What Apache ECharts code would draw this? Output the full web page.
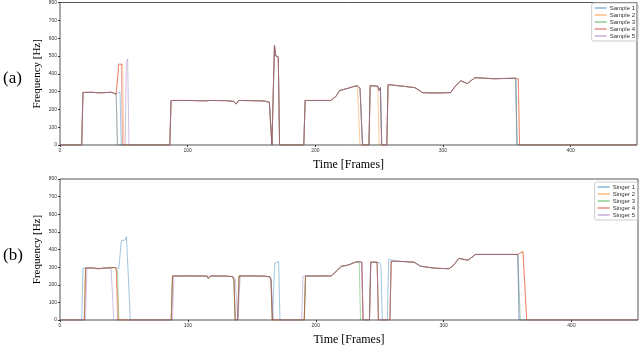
<!DOCTYPE html>
<html>
<head>
<meta charset="utf-8">
<script src="https://cdn.jsdelivr.net/npm/echarts@6/dist/echarts.min.js"></script>
<style>
  html, body { margin: 0; padding: 0; background: #fff; }
  #main { width: 640px; height: 347px; }
</style>
</head>
<body>
<div id="main"></div>
<script>
// axis ticks
var xTicks = [0, 100, 200, 300, 400];
var yTicks = [0, 100, 200, 300, 400, 500, 600, 700, 800];

var namesA = ['Sample 1', 'Sample 2', 'Sample 3', 'Sample 4', 'Sample 5'];
var namesB = ['Singer 1', 'Singer 2', 'Singer 3', 'Singer 4', 'Singer 5'];
var colors = ['#1f77b4', '#ff7f0e', '#2ca02c', '#d62728', '#9467bd'];

// (a) shared pieces of the contour, [frame, Hz]
var a_lead = [[0, 0], [17, 0], [18, 295], [25, 296], [30, 293], [35, 294], [40, 296], [42, 292]];
var a_seg2 = [[86, 0], [87, 250], [100, 250], [115, 248], [116, 245], [117, 250], [130, 249], [136, 245], [138, 230], [140, 250], [150, 249], [160, 247], [164, 240], [166, 0],
              [167, 0], [168, 560], [169, 500], [171, 495], [172, 0]];
var a_seg2b = [[86, 0], [87, 250], [100, 250], [115, 248], [116, 239], [117, 250], [130, 249], [136, 245], [138, 228], [140, 250], [150, 249], [160, 247], [164, 238], [166, 0],
               [167, 0], [168, 555], [169, 505], [171, 492], [172, 0]];
var a_seg3 = [[191, 0], [192, 250], [212, 250], [216, 272], [219, 306], [225, 317], [230, 328], [233, 333], [235, 320], [237, 0]];
var a_seg3b = [[191, 0], [192, 250], [212, 250], [216, 270], [219, 304], [225, 318], [230, 330], [233, 330], [234, 322], [235, 0]];
var a_seg4 = [[242, 0], [243, 333], [249, 330], [250, 306], [251, 322], [252, 0]];
var a_seg4b = [[242, 0], [243, 333], [248, 330], [249, 310], [250, 0]];
var a_seg5 = [[256, 0], [257, 339], [271, 328], [278, 322], [284, 294], [293, 292], [306, 294], [310, 333], [314, 361], [319, 344], [325, 378], [340, 372], [357, 375]];
var a_end = [[358, 0], [452, 0]];
var a_endLate = [[359, 372], [360, 0], [452, 0]];

var a_s1 = [].concat(a_lead, [[44, 287], [45, 290], [47, 298], [48, 0]], a_seg2, a_seg3, a_seg4, a_seg5, a_end);
var a_s2 = [].concat(a_lead, [[44, 285], [45, 290], [46, 450], [49, 455], [50, 0]], a_seg2b, a_seg3b, a_seg4b, a_seg5, a_endLate);
var a_s3 = [].concat(a_lead, [[44, 285], [45, 0]], a_seg2, a_seg3, a_seg4, a_seg5, a_end);
var a_s4 = [].concat(a_lead, [[44, 285], [45, 285], [46, 455], [48, 455], [49, 0]], a_seg2, a_seg3, a_seg4, a_seg5, a_endLate);
var a_s5 = [].concat(a_lead, [[44, 282], [45, 0], [51, 0], [52, 465], [53, 483], [54, 0]], a_seg2, a_seg3, a_seg4, a_seg5, a_end);

// (b) shared pieces
var b_body1 = [[25, 296], [30, 291], [35, 295], [40, 297], [43, 298]];
var b_seg2 = [[87, 0], [88, 250], [100, 250], [115, 249], [116, 235], [118, 250], [130, 249], [135, 246], [136, 228], [137, 0],
              [139, 0], [140, 250], [150, 250], [160, 249], [164, 245], [165, 228], [166, 0]];
var b_seg2p = [[88, 0], [89, 248], [100, 250], [115, 249], [116, 238], [118, 250], [130, 249], [135, 246], [137, 235], [139, 0],
               [140, 0], [141, 250], [150, 250], [160, 249], [165, 240], [167, 0]];
var b_spike = [[167, 0], [168, 322], [169, 328], [171, 331], [172, 0]];
var b_seg3 = [[191, 0], [192, 250], [212, 250], [217, 283], [220, 305], [225, 311], [231, 328], [234, 331], [236, 328], [237, 0]];
var b_seg3g = [[191, 0], [192, 250], [212, 250], [217, 283], [220, 305], [225, 311], [231, 328], [234, 331], [235, 0]];
var b_seg3p = [[189, 0], [190, 248], [212, 250], [217, 283], [220, 305], [225, 311], [231, 328], [234, 331], [236, 328], [237, 0]];
var b_seg4 = [[242, 0], [243, 328], [248, 328], [249, 0]];
var b_seg4b = [[242, 0], [243, 328], [250, 325], [251, 305], [252, 0]];
var b_seg5 = [[265, 333], [277, 328], [282, 305], [293, 294], [304, 291], [307, 305], [312, 350], [319, 339], [325, 372], [358, 372]];

var b_s1 = [].concat([[0, 0], [17, 0], [18, 294]], b_body1, [[46, 292], [47, 300], [48, 450], [51, 454], [52, 472], [53, 472], [55, 0]],
                     b_seg2, b_spike, b_seg3, b_seg4b, [[256, 0], [257, 344]], b_seg5, [[359, 0], [452, 0]]);
var b_s2 = [].concat([[0, 0], [19, 0], [20, 295], [25, 294], [30, 290], [35, 295], [40, 296], [44, 294], [45, 285], [46, 0]],
                     b_seg2, b_seg3, b_seg4, [[258, 0], [259, 333]], b_seg5, [[362, 389], [365, 0], [452, 0]]);
var b_s3 = [].concat([[0, 0], [19, 0], [20, 295]], b_body1, [[44, 290], [45, 278], [46, 0]],
                     b_seg2, b_seg3g, b_seg4, [[258, 0], [259, 333]], b_seg5, [[360, 0], [452, 0]]);
var b_s4 = [].concat([[0, 0], [19, 0], [20, 296]], b_body1, [[44, 285], [45, 0]],
                     b_seg2, b_seg3, b_seg4, [[258, 0], [259, 333]], b_seg5, [[362, 389], [365, 0], [452, 0]]);
var b_s5 = [].concat([[0, 0], [20, 0], [21, 293], [30, 294], [40, 292], [41, 285], [42, 0]],
                     b_seg2p, b_seg3p, b_seg4, [[258, 0], [259, 333]], b_seg5, [[359, 0], [452, 0]]);

var dataA = [a_s1, a_s2, a_s3, a_s4, a_s5];
var dataB = [b_s1, b_s2, b_s3, b_s4, b_s5];

var myChart = echarts.init(document.getElementById('main'));

function xAxisOf(gi) {
  return {
    type: 'value', gridIndex: gi, min: 0, max: 452, interval: 100,
    name: 'Time [Frames]', nameLocation: 'middle', nameGap: 14,
    nameTextStyle: { fontFamily: 'Liberation Serif', fontSize: 12, color: '#000' },
    axisLine: { show: false },
    axisTick: { show: true, length: 2, lineStyle: { color: '#333' },
      customValues: xTicks },
    axisLabel: { fontSize: 5, color: '#333', margin: 3, customValues: xTicks },
    splitLine: { show: false }
  };
}
function yAxisOf(gi) {
  return {
    type: 'value', gridIndex: gi, min: 0, max: 800, interval: 100,
    name: 'Frequency [Hz]', nameLocation: 'middle', nameGap: 17, nameMoveOverlap: false,
    nameTextStyle: { fontFamily: 'Liberation Serif', fontSize: 11, color: '#000' },
    axisLine: { show: false },
    axisTick: { show: true, length: 2, lineStyle: { color: '#333' } },
    axisLabel: { fontSize: 5, color: '#333', margin: 3 },
    splitLine: { show: false }
  };
}
function legendOf(names, top) {
  return {
    data: names, orient: 'vertical', right: 2, top: top,
    itemGap: 1, itemWidth: 12, itemHeight: 2, icon: 'rect',
    itemStyle: { opacity: 0.4 },
    padding: [2, 3, 2, 3],
    borderColor: '#ccc', borderWidth: 1, borderRadius: 2,
    textStyle: { fontSize: 6, color: '#333', padding: [0, 0, 0, -2] },
    inactiveColor: '#ccc'
  };
}

var series = [];
[dataA, dataB].forEach(function (set, gi) {
  var names = gi === 0 ? namesA : namesB;
  set.forEach(function (d, i) {
    series.push({
      name: names[i], type: 'line', xAxisIndex: gi, yAxisIndex: gi,
      data: d, showSymbol: false, animation: false,
      color: colors[i],
      lineStyle: { width: 1, opacity: 0.42 }
    });
  });
});

myChart.setOption({
  backgroundColor: '#fff',
  grid: [
    { left: 60, right: 3, top: 1, height: 144, show: true, borderColor: '#555', borderWidth: 1 },
    { left: 60, right: 2, top: 179, height: 144, show: true, borderColor: '#555', borderWidth: 1 }
  ],
  xAxis: [xAxisOf(0), xAxisOf(1)],
  yAxis: [yAxisOf(0), yAxisOf(1)],
  legend: [legendOf(namesA, 3), legendOf(namesB, 182)],
  graphic: [
    { type: 'text', left: 3, top: 70, style: { text: '(a)', fontFamily: 'Liberation Serif', fontSize: 17, fill: '#000' } },
    { type: 'text', left: 3, top: 247, style: { text: '(b)', fontFamily: 'Liberation Serif', fontSize: 17, fill: '#000' } }
  ],
  series: series
});
</script>
</body>
</html>
